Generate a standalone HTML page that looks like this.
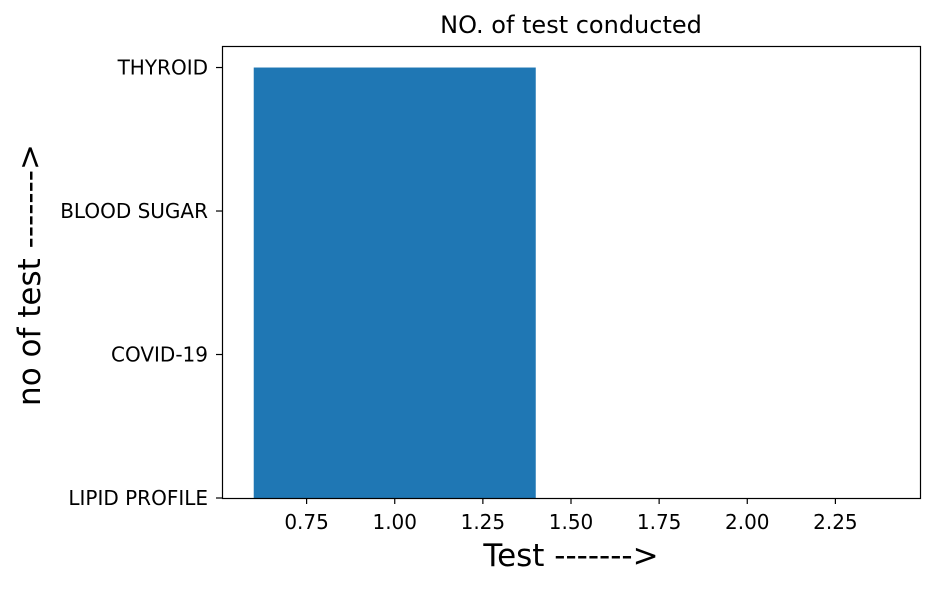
<!DOCTYPE html>
<html><head><meta charset="utf-8"><style>
body{margin:0;background:#fff;}
text{font-family:"DejaVu Sans","Liberation Sans",sans-serif;fill:#000;}
</style></head><body>
<svg id="chart" width="935" height="588" viewBox="0 0 935 588" xmlns="http://www.w3.org/2000/svg">
<rect width="935" height="588" fill="#fff"/>
<g id="plot"></g>
<text x="571" y="33" text-anchor="middle" style="font-size:24px">NO. of test conducted</text>
<text x="571" y="566" text-anchor="middle" style="font-size:31px">Test -------&gt;</text>
<text transform="translate(40,275) rotate(-90)" text-anchor="middle" style="font-size:31px">no of test -------&gt;</text>
</svg>
<script>
const categories = ["LIPID PROFILE","COVID-19","BLOOD SUGAR","THYROID"];
const xValues = [1, 2];
const barValues = ["THYROID", "LIPID PROFILE"];
const xTicks = [0.75, 1.00, 1.25, 1.50, 1.75, 2.00, 2.25];
const xTickLabels = ["0.75","1.00","1.25","1.50","1.75","2.00","2.25"];

const L=222,R=920,T=46,B=498;
const xmin=0.51,xmax=2.49,ymin=0,ymax=3.15,barW=0.8;
const sx=v=>L+(v-xmin)/(xmax-xmin)*(R-L);
const sy=v=>B-(v-ymin)/(ymax-ymin)*(B-T);
const NS="http://www.w3.org/2000/svg";
const g=document.getElementById('plot');
function mk(tag,attrs){const e=document.createElementNS(NS,tag);for(const k in attrs)e.setAttribute(k,attrs[k]);g.appendChild(e);return e;}

xValues.forEach((x,i)=>{
  const h=categories.indexOf(barValues[i]);
  const y0=sy(0),y1=sy(h);
  const r=mk('rect',{x:sx(x-barW/2),y:Math.min(y0,y1),width:sx(x+barW/2)-sx(x-barW/2),height:Math.abs(y0-y1),fill:'#1f77b4'});
  
  
});

const frame=mk('rect',{x:L+0.5,y:T+0.5,width:R-L,height:B-T,fill:'none',stroke:'#000','stroke-width':1.2});



xTicks.forEach((v,i)=>{
  const x=sx(v);
  mk('line',{x1:x,x2:x,y1:B,y2:B+6,stroke:'#000','stroke-width':1.2});
  const t=mk('text',{x:x,y:B+31,'text-anchor':'middle',style:'font-size:20px'});
  t.textContent=xTickLabels[i];
  
  
});
categories.forEach((c,i)=>{
  const y=sy(i);
  mk('line',{x1:L-6,x2:L,y1:y,y2:y,stroke:'#000','stroke-width':1.2});
  const t=mk('text',{x:L-14,y:y+7,'text-anchor':'end',style:'font-size:20px'});
  t.textContent=c;
  
  
});
</script>
</body></html>
